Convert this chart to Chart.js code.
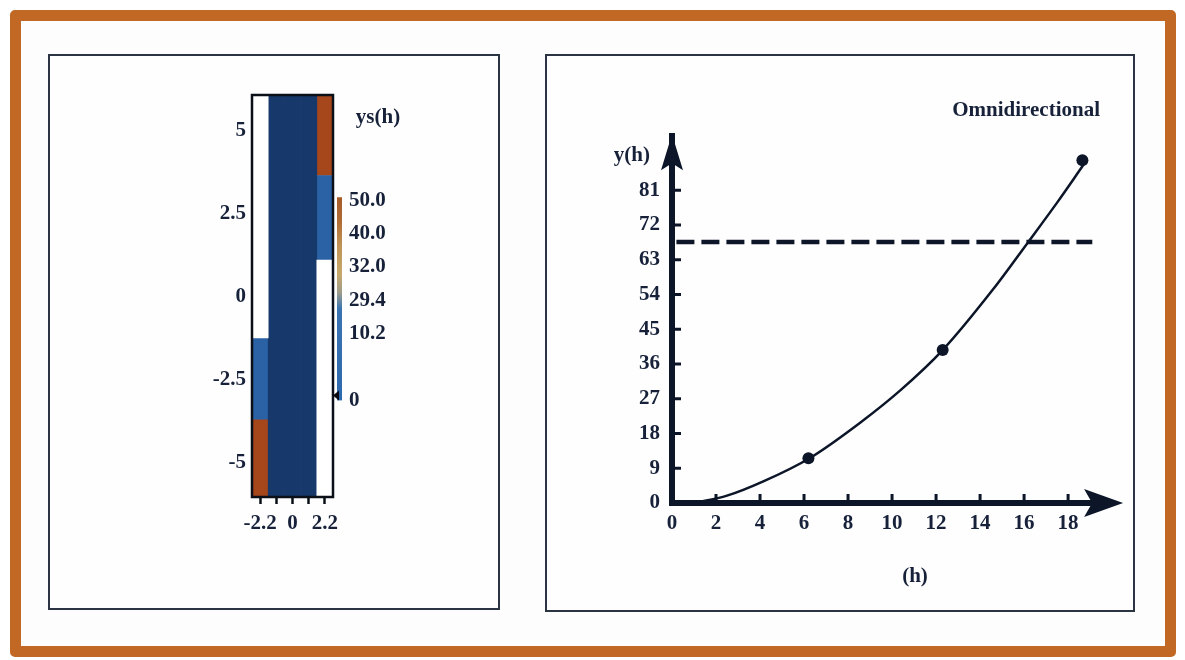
<!DOCTYPE html>
<html>
<head>
<meta charset="utf-8">
<script src="https://cdn.jsdelivr.net/npm/chart.js@4.4.1/dist/chart.umd.min.js"></script>
<style>
  html, body { margin:0; padding:0; }
  body { width:1185px; height:660px; position:relative; overflow:hidden; background:#ffffff; }
  #frame { position:absolute; left:10px; top:10px; width:1166px; height:647px; box-sizing:border-box;
           border:11px solid #c06824; border-radius:5px; background:#fdfdfd; }
  .panel { position:absolute; box-sizing:border-box; border:2px solid #2b3443; background:#fefefe; }
  canvas { position:absolute; }
</style>
</head>
<body>
<div id="frame"></div>
<div class="panel" style="left:48px;top:54px;width:452px;height:556px;"></div>
<div class="panel" style="left:545px;top:54px;width:590px;height:558px;"></div>
<canvas id="heat" width="452" height="556" style="left:48px;top:54px;"></canvas>
<canvas id="cbar" width="99" height="320" style="left:320px;top:100px;"></canvas>
<canvas id="curve" width="590" height="558" style="left:545px;top:54px;"></canvas>
<script>
// ---------- data: left heat map ----------
const heatCols = ['-2.2', '-1.1', '0', '1.1', '2.2'];
const heatXTickLabels = ['-2.2', '', '0', '', '2.2'];
const heatYTicks = [-5, -2.5, 0, 2.5, 5];
const heatYMin = -6.05, heatYMax = 6.08;
const navySeg  = [null, [-6.05, 6.08], [-6.05, 6.08], [-6.05, 6.08], null];
const blueSeg  = [[-3.7, -1.25], null, null, null, [1.1, 3.65]];
const brownSeg = [[-6.05, -3.7], null, null, null, [3.65, 6.08]];
const whiteSeg = [[-1.25, 6.08], null, null, null, [-6.05, 1.1]];

// ---------- data: colour bar ----------
const cbTickPos    = [0, 2, 3, 4, 5, 6];
const cbTickLabels = ['0', '10.2', '29.4', '32.0', '40.0', '50.0'];
const cbRange      = [0, 6.09];

// ---------- data: right chart ----------
const xTicksR = [0, 2, 4, 6, 8, 10, 12, 14, 16, 18];
const yTicksR = [0, 9, 18, 27, 36, 45, 54, 63, 72, 81];
const curveX = [1.0, 2.5, 4.15, 6.25, 8.55, 10.4, 12.3, 14.6, 16.15, 17.5, 18.7];
const curveY = [0, 1.9, 5.6, 11.6, 20.8, 29.3, 39.6, 55.4, 67.3, 77.8, 87.6];
const obsX = [6.2, 12.3, 18.65];
const obsY = [11.6, 39.6, 88.8];
const thresholdX = [0.2, 19.1];
const thresholdY = [67.6, 67.6];

const INK = '#0c1628';
const TXT = '#17223a';
const SERIF = "'Liberation Serif', 'Times New Roman', serif";
Chart.defaults.font.family = SERIF;
Chart.defaults.font.weight = 'bold';
Chart.defaults.color = TXT;

// frame around heat map plot area
const frameBox = {
  id: 'frameBox',
  afterDatasetsDraw(chart) {
    const a = chart.chartArea, ctx = chart.ctx;
    ctx.save();
    ctx.strokeStyle = '#0a0f18';
    ctx.lineWidth = 2.5;
    ctx.strokeRect(a.left, a.top, a.right - a.left, a.bottom - a.top);
    ctx.restore();
  }
};

new Chart(document.getElementById('heat'), {
  type: 'bar',
  data: {
    labels: heatCols,
    datasets: [
      { data: whiteSeg, backgroundColor: '#ffffff', grouped: false },
      { data: navySeg,  backgroundColor: '#17386a', grouped: false },
      { data: blueSeg,  backgroundColor: '#2a62a5', grouped: false },
      { data: brownSeg, backgroundColor: '#a5461b', grouped: false }
    ]
  },
  options: {
    responsive: false, animation: false,
    barPercentage: 1, categoryPercentage: 1,
    layout: { padding: { left: 0, right: 167, top: 41, bottom: 0 } },
    plugins: { legend: { display: false }, tooltip: { enabled: false } },
    scales: {
      x: {
        ticks: { callback: (v, i) => heatXTickLabels[i], autoSkip: false, maxRotation: 0,
                 font: { size: 21, weight: 'bold' }, color: TXT, padding: 7 },
        grid: { display: true, drawOnChartArea: false, drawTicks: true, tickLength: 7,
                tickWidth: 2.5, tickColor: '#0a0f18', offset: false },
        border: { display: false },
        afterFit: s => { s.height = 113; }
      },
      y: {
        min: heatYMin, max: heatYMax,
        afterBuildTicks: s => { s.ticks = heatYTicks.map(v => ({ value: v })); },
        ticks: { callback: v => String(v), font: { size: 21, weight: 'bold' }, color: TXT, padding: 6 },
        grid: { display: false, drawTicks: false },
        border: { display: false },
        afterFit: s => { s.width = 204; }
      }
    }
  },
  plugins: [frameBox]
});

// colour bar
const cbMarker = {
  id: 'cbMarker',
  afterDatasetsDraw(chart) {
    const a = chart.chartArea, ctx = chart.ctx, y = chart.scales.y.getPixelForValue(0.15);
    ctx.save();
    ctx.fillStyle = '#05080e';
    ctx.beginPath();
    ctx.moveTo(a.left - 4, y);
    ctx.lineTo(a.left + 2, y - 5);
    ctx.lineTo(a.left + 2, y + 5);
    ctx.closePath();
    ctx.fill();
    ctx.restore();
  }
};
new Chart(document.getElementById('cbar'), {
  type: 'bar',
  data: {
    labels: [''],
    datasets: [{
      data: [cbRange],
      grouped: false,
      backgroundColor: (ctx) => {
        const a = ctx.chart.chartArea;
        if (!a) return '#3a70b0';
        const g = ctx.chart.ctx.createLinearGradient(0, a.bottom, 0, a.top);
        g.addColorStop(0.00, '#2d69ae');
        g.addColorStop(0.45, '#3a73b2');
        g.addColorStop(0.53, '#9c9c8a');
        g.addColorStop(0.62, '#c6a86c');
        g.addColorStop(0.76, '#c09456');
        g.addColorStop(0.88, '#b06c34');
        g.addColorStop(1.00, '#a55a2a');
        return g;
      }
    }]
  },
  options: {
    responsive: false, animation: false,
    barPercentage: 1, categoryPercentage: 1,
    layout: { padding: { left: 17, right: 0, top: 5, bottom: 12 } },
    plugins: {
      legend: { display: false }, tooltip: { enabled: false },
      title: { display: true, text: 'ys(h)', font: { size: 21, weight: 'bold' }, color: TXT,
               padding: { top: 0, bottom: 67 } }
    },
    scales: {
      x: { display: false },
      y: {
        position: 'right', min: cbRange[0], max: cbRange[1],
        afterBuildTicks: s => { s.ticks = cbTickPos.map(v => ({ value: v })); },
        ticks: { callback: (v, i) => cbTickLabels[i], font: { size: 21, weight: 'bold' }, color: TXT, padding: 7 },
        grid: { display: false, drawTicks: false },
        border: { display: false },
        afterFit: s => { s.width = 77; }
      }
    }
  },
  plugins: [cbMarker]
});

// right chart decorations: inward ticks, arrowheads, free labels
const axisDecor = {
  id: 'axisDecor',
  afterDraw(chart) {
    const a = chart.chartArea, ctx = chart.ctx, xs = chart.scales.x, ys = chart.scales.y;
    ctx.save();
    ctx.strokeStyle = INK; ctx.fillStyle = INK; ctx.lineWidth = 3;
    xTicksR.forEach(v => { if (v === 0) return; const p = xs.getPixelForValue(v);
      ctx.beginPath(); ctx.moveTo(p, a.bottom - 2); ctx.lineTo(p, a.bottom - 9); ctx.stroke(); });
    yTicksR.forEach(v => { if (v === 0) return; const p = ys.getPixelForValue(v);
      ctx.beginPath(); ctx.moveTo(a.left + 2, p); ctx.lineTo(a.left + 9, p); ctx.stroke(); });
    // x shaft + arrow
    const tipX = xs.getPixelForValue(20.5), yb = a.bottom;
    ctx.lineWidth = 6;
    ctx.beginPath(); ctx.moveTo(a.right - 2, yb); ctx.lineTo(tipX - 20, yb); ctx.stroke();
    ctx.beginPath();
    ctx.moveTo(tipX, yb);
    ctx.lineTo(tipX - 39, yb - 14);
    ctx.lineTo(tipX - 31, yb);
    ctx.lineTo(tipX - 39, yb + 14);
    ctx.closePath(); ctx.fill();
    // y arrow
    const tipY = a.top - 2, xl = a.left;
    ctx.beginPath();
    ctx.moveTo(xl, tipY);
    ctx.lineTo(xl + 11, tipY + 36);
    ctx.lineTo(xl, tipY + 29);
    ctx.lineTo(xl - 11, tipY + 36);
    ctx.closePath(); ctx.fill();
    // labels
    ctx.fillStyle = TXT;
    ctx.font = "bold 21px " + SERIF;
    ctx.textBaseline = 'middle';
    ctx.textAlign = 'right';
    ctx.fillText('y(h)', a.left - 22, a.top + 19);
    ctx.textAlign = 'center';
    ctx.fillText('(h)', a.left + 243, a.bottom + 74);
    ctx.restore();
  }
};

new Chart(document.getElementById('curve'), {
  type: 'scatter',
  data: {
    datasets: [
      { type: 'line', data: curveX.map((x, i) => ({ x, y: curveY[i] })), borderColor: INK,
        borderWidth: 2.5, pointRadius: 0, cubicInterpolationMode: 'monotone', fill: false },
      { type: 'scatter', data: obsX.map((x, i) => ({ x, y: obsY[i] })), backgroundColor: INK,
        borderColor: INK, pointRadius: 6, borderWidth: 0 },
      { type: 'line', data: thresholdX.map((x, i) => ({ x, y: thresholdY[i] })), borderColor: INK,
        borderWidth: 4.5, borderDash: [18, 7], pointRadius: 0, fill: false }
    ]
  },
  options: {
    responsive: false, animation: false,
    layout: { padding: { left: 0, right: 35, top: 44, bottom: 0 } },
    plugins: {
      legend: { display: false }, tooltip: { enabled: false },
      title: { display: true, text: 'Omnidirectional', align: 'end', fullSize: false,
               font: { size: 21, weight: 'bold' }, color: TXT, padding: { top: 0, bottom: 13 } }
    },
    scales: {
      x: {
        type: 'linear', min: 0, max: 19.45,
        afterBuildTicks: s => { s.ticks = xTicksR.map(v => ({ value: v })); },
        ticks: { callback: v => String(v), autoSkip: false, maxRotation: 0,
                 font: { size: 21, weight: 'bold' }, color: TXT, padding: 8 },
        grid: { display: false, drawTicks: false },
        border: { display: true, color: INK, width: 6 },
        afterFit: s => { s.height = 109; }
      },
      y: {
        type: 'linear', min: 0, max: 95,
        afterBuildTicks: s => { s.ticks = yTicksR.map(v => ({ value: v })); },
        ticks: { callback: v => String(v), font: { size: 21, weight: 'bold' }, color: TXT, padding: 12 },
        grid: { display: false, drawTicks: false },
        border: { display: true, color: INK, width: 6 },
        afterFit: s => { s.width = 127; }
      }
    }
  },
  plugins: [axisDecor]
});
</script>
</body>
</html>
